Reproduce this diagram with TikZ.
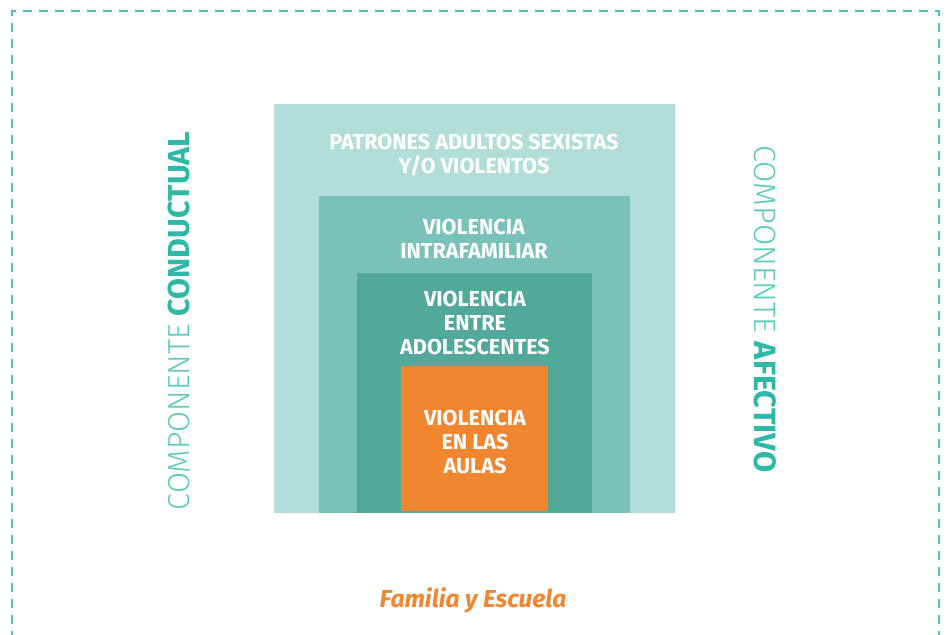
\documentclass[tikz,border=0pt]{standalone}
\usepackage{fontspec}
\setmainfont{Fira Sans}
\newfontfamily\lightfont{Fira Sans Light}
\definecolor{dashcol}{HTML}{4CC4B4}
\definecolor{teal}{HTML}{2EB8A6}
\definecolor{tealL}{HTML}{5CC9BB}
\definecolor{c1}{HTML}{B1DED8}
\definecolor{c2}{HTML}{7AC2B7}
\definecolor{c3}{HTML}{52A99A}
\definecolor{c4}{HTML}{F08730}
\begin{document}
\begin{tikzpicture}[x=1pt,y=-1pt,
  box/.style={anchor=north west,inner sep=0pt,outer sep=0pt,draw=none},
  lbl/.style={text=white,font=\bfseries\fontsize{21.6}{24}\selectfont,align=center,inner sep=0pt}]
\useasboundingbox (0,0) rectangle (949,634);
\fill[white] (0,0) rectangle (949,634);
\draw[dashcol,line width=1.3pt,dash pattern=on 9pt off 7pt] (12,640) -- (12,11) -- (939,11) -- (939,640);
\node[box,fill=c1,minimum width=401pt,minimum height=409pt] (b1) at (274,104) {};
\node[box,fill=c2,minimum width=311pt,minimum height=317pt] (b2) at (319,196) {};
\node[box,fill=c3,minimum width=235pt,minimum height=240pt] (b3) at (357,273) {};
\node[box,fill=c4,minimum width=147pt,minimum height=145pt] (b4) at (401,366) {};
\node[lbl] (t1) at (474,155) {PATRONES ADULTOS SEXISTAS\\Y/O VIOLENTOS};
\node[lbl] (t2) at (474,239) {VIOLENCIA\\INTRAFAMILIAR};
\node[lbl] (t3) at (475,323) {VIOLENCIA\\ENTRE\\ADOLESCENTES};
\node[lbl] (t4) at (475,442) {VIOLENCIA\\EN LAS\\AULAS};
\node[rotate=90,inner sep=0pt,font=\fontsize{30.4}{30}\selectfont] (left) at (179,321) {{\lightfont\color{tealL}COMPONENTE} {\bfseries\color{teal}CONDUCTUAL}};
\node[rotate=-90,inner sep=0pt,font=\fontsize{30.8}{30}\selectfont] (right) at (765,309) {{\lightfont\color{tealL}COMPONENTE} {\bfseries\color{teal}AFECTIVO}};
\node[inner sep=0pt,text=c4,font=\bfseries\itshape\fontsize{24.5}{24}\selectfont] (fam) at (473,600) {Familia y Escuela};
\end{tikzpicture}
\end{document}
